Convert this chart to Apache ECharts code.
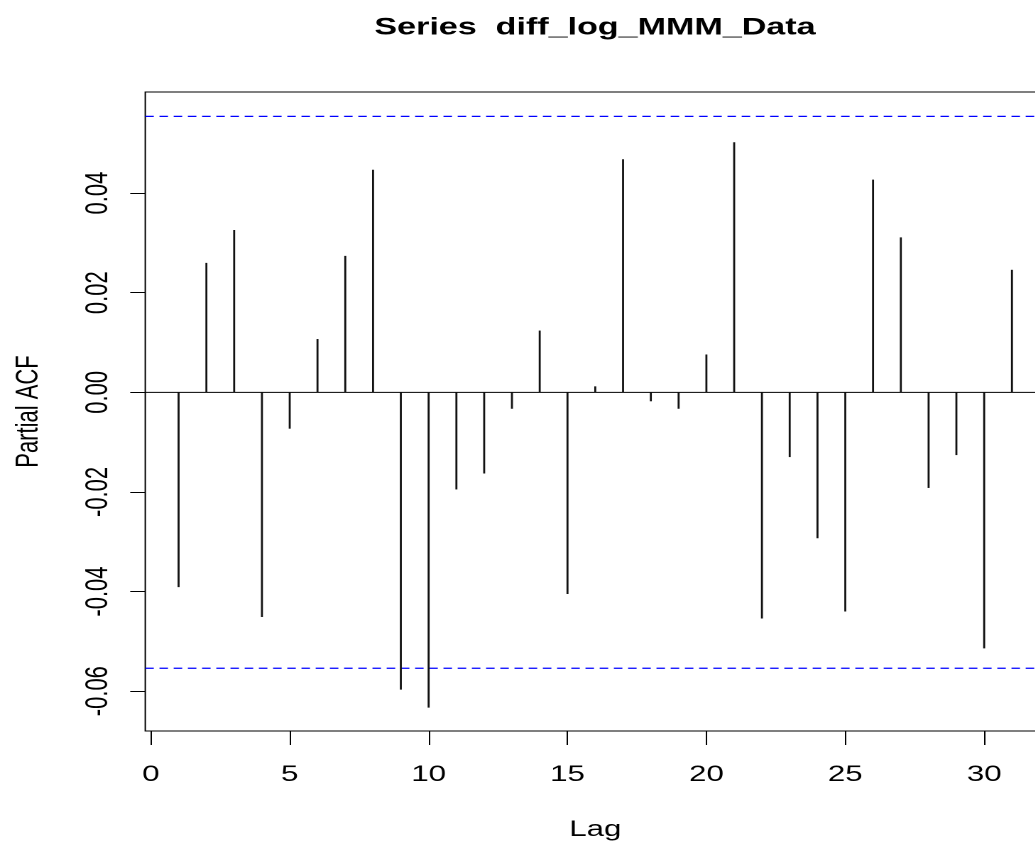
<!DOCTYPE html>
<html>
<head>
<meta charset="utf-8">
<script src="https://cdn.jsdelivr.net/npm/echarts@6/dist/echarts.min.js"></script>
<style>
  html, body { margin: 0; padding: 0; overflow: hidden; background: #fff; width: 1035px; height: 841px; }
  /* the plot is laid out on a narrower canvas and widened horizontally */
  #chart { width: 740px; height: 841px; transform: scaleX(1.42); transform-origin: 0 0; }
</style>
</head>
<body>
<div id="chart"></div>
<script>
// Partial autocorrelation of the differenced log series, lags 1..31
const lags = [1, 2, 3, 4, 5, 6, 7, 8, 9, 10, 11, 12, 13, 14, 15, 16,
              17, 18, 19, 20, 21, 22, 23, 24, 25, 26, 27, 28, 29, 30, 31];
const pacfValues = [-0.0391, 0.0260, 0.0326, -0.0451, -0.0073, 0.0107, 0.0274, 0.0447,
                    -0.0597, -0.0633, -0.0195, -0.0163, -0.0033, 0.0124, -0.0405, 0.0012,
                    0.0468, -0.0018, -0.0033, 0.0076, 0.0502, -0.0454, -0.0130, -0.0293,
                    -0.0440, 0.0427, 0.0311, -0.0192, -0.0126, -0.0514, 0.0246];
// 95% significance bound
const ciBound = 0.0554;
// lag axis range and tick labels
const lagMin = -0.2;
const lagMax = 32.2;
const xTickValues = [0, 5, 10, 15, 20, 25, 30];
const yTickValues = [-0.06, -0.04, -0.02, 0, 0.02, 0.04];
const titleText = 'Series  diff_log_MMM_Data';
const xName = 'Lag';
const yName = 'Partial ACF';

const FONT = "'Liberation Sans', Arial, sans-serif";

// horizontal reference line across the whole lag range
function hLine(value, color, type, width) {
  return {
    type: 'line',
    data: [[lagMin, value], [lagMax, value]],
    symbol: 'none',
    silent: true,
    z: 1,
    lineStyle: { color: color, width: width, type: type }
  };
}

const chart = echarts.init(document.getElementById('chart'), null, { devicePixelRatio: 2 });

chart.setOption({
  animation: false,
  backgroundColor: '#ffffff',
  title: {
    text: titleText,
    left: 414,
    top: 11,
    textAlign: 'center',
    textStyle: { fontFamily: FONT, fontSize: 24, fontWeight: 'bold', color: '#000' }
  },
  grid: {
    left: 102.3,
    top: 92,
    width: 633.8,
    height: 639,
    containLabel: false,
    outerBoundsMode: 'none',
    show: true,
    borderColor: '#000',
    borderWidth: 1,
    backgroundColor: 'transparent'
  },
  xAxis: {
    type: 'value',
    min: lagMin,
    max: lagMax,
    axisLine: { show: false, onZero: false },
    splitLine: { show: false },
    axisTick: {
      show: true,
      length: 14,
      customValues: xTickValues,
      lineStyle: { color: '#000', width: 1 }
    },
    axisLabel: {
      customValues: xTickValues,
      margin: 33,
      fontSize: 22,
      fontFamily: FONT,
      color: '#000'
    },
    name: xName,
    nameLocation: 'middle',
    nameGap: 88,
    nameTextStyle: { fontFamily: FONT, fontSize: 22, color: '#000' }
  },
  yAxis: {
    type: 'value',
    min: -0.068,
    max: 0.0603,
    axisLine: { show: false, onZero: false },
    splitLine: { show: false },
    axisTick: {
      show: true,
      length: 10.6,
      customValues: yTickValues,
      lineStyle: { color: '#000', width: 1 }
    },
    axisLabel: {
      customValues: yTickValues,
      rotate: 90,
      margin: 22,
      fontSize: 22,
      fontFamily: FONT,
      color: '#000',
      formatter: v => v.toFixed(2)
    },
    name: yName,
    nameLocation: 'middle',
    nameGap: 71,
    nameTextStyle: { fontFamily: FONT, fontSize: 22, color: '#000' }
  },
  series: [
    hLine(0, '#000', 'solid', 1),
    hLine(ciBound, '#0000ff', [6, 4], 1.3),
    hLine(-ciBound, '#0000ff', [6, 4], 1.3),
    {
      type: 'bar',
      data: lags.map((lag, i) => [lag, pacfValues[i]]),
      barWidth: 1.4,
      itemStyle: { color: '#111' },
      silent: true,
      z: 2
    }
  ]
});
</script>
</body>
</html>
